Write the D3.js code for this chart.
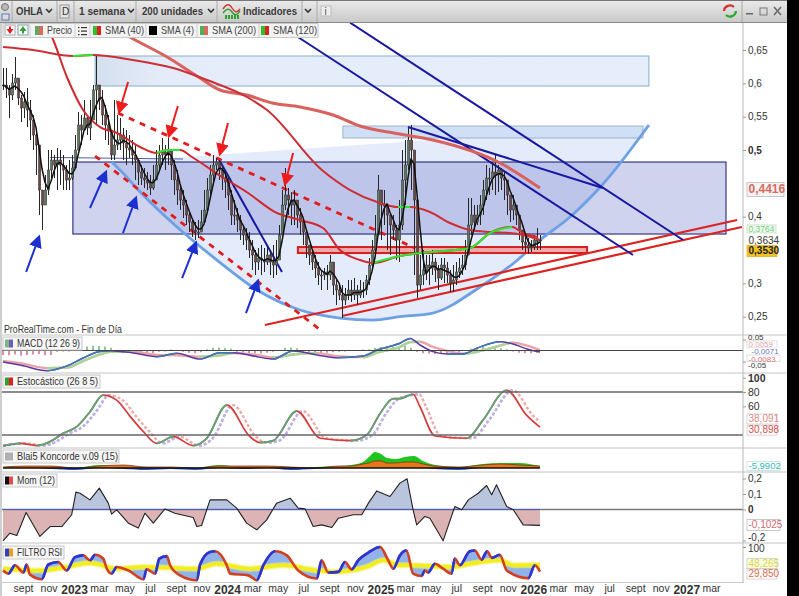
<!DOCTYPE html>
<html><head><meta charset="utf-8">
<script src="https://cdn.jsdelivr.net/npm/d3@7"></script>
<style>html,body{margin:0;padding:0;background:#fff}svg{display:block}text{font-family:"Liberation Sans",Arial,sans-serif}</style>
</head><body><div id="c"></div>
<script>
// ---- weekly bars (index 0..179), prices
const closes=[.5975,.593,.5825,.6005,.608,.578,.563,.572,.56,.545,.5225,.5075,.44,.4175,.44,.47,.485,.4775,.485,.4775,.47,.455,.458,.473,.5,.5375,.53,.548,.533,.545,.59,.5975,.575,.5525,.5375,.53,.4925,.5075,.515,.5225,.5105,.503,.5,.4925,.485,.467,.458,.455,.4505,.443,.455,.4775,.4925,.497,.4925,.5,.4775,.455,.44,.425,.4175,.4025,.392,.38,.377,.377,.392,.41,.44,.4625,.4775,.482,.47,.458,.452,.4325,.4025,.4025,.395,.38,.3725,.365,.35,.3425,.332,.338,.335,.332,.3425,.332,.3275,.335,.3725,.4175,.4325,.425,.4175,.425,.4025,.392,.377,.3575,.3425,.332,.323,.3125,.3125,.317,.3125,.332,.2975,.29,.2825,.275,.2825,.29,.2825,.29,.2825,.29,.29,.305,.3275,.35,.3725,.44,.4175,.4175,.4025,.3875,.38,.365,.3875,.455,.4775,.515,.5,.425,.2975,.3125,.32,.3275,.323,.332,.32,.308,.3275,.323,.3125,.3005,.305,.317,.323,.3275,.3425,.3875,.4025,.392,.4025,.4175,.44,.458,.458,.467,.4625,.47,.458,.455,.4325,.41,.4175,.4025,.38,.362,.3575,.353,.3545,.365,.365,.3634];
const highs=[.623,.623,.5975,.614,.6395,.5975,.5825,.587,.593,.575,.5525,.533,.5,.44,.4625,.5,.5,.4925,.503,.5,.4925,.4775,.485,.4925,.5225,.557,.5525,.575,.5525,.575,.5975,.6425,.5975,.59,.5675,.5525,.53,.575,.5525,.548,.533,.53,.5225,.515,.5075,.485,.4775,.473,.467,.4625,.4775,.5,.5075,.518,.5075,.518,.5,.485,.47,.4475,.44,.425,.407,.395,.392,.395,.41,.44,.458,.4775,.4925,.488,.485,.4775,.47,.4625,.44,.425,.413,.4025,.3875,.383,.377,.365,.35,.353,.3575,.353,.3575,.35,.3575,.365,.3875,.44,.473,.443,.437,.44,.425,.413,.395,.3725,.3575,.35,.3425,.332,.32,.323,.3275,.3425,.32,.305,.2975,.2975,.293,.305,.305,.308,.2975,.305,.302,.3125,.338,.365,.4025,.4625,.4325,.44,.4175,.4025,.4025,.3875,.425,.5,.515,.533,.5375,.4775,.395,.3425,.35,.3425,.3425,.35,.338,.3275,.338,.338,.332,.32,.3275,.332,.338,.3425,.365,.428,.428,.4175,.4175,.4325,.455,.4775,.473,.482,.4925,.4775,.473,.467,.4475,.4325,.4325,.4175,.4025,.38,.3725,.368,.365,.3725,.383,.3725];
const lows=[.59,.578,.548,.575,.59,.5675,.542,.548,.5345,.515,.5,.4625,.4025,.38,.4175,.4325,.455,.458,.44,.4475,.44,.44,.44,.455,.485,.5,.5075,.53,.5225,.515,.548,.5375,.56,.5375,.515,.5075,.485,.485,.5,.5,.485,.4775,.488,.4775,.455,.4475,.4475,.443,.44,.4325,.44,.458,.47,.4775,.47,.4775,.455,.4325,.4175,.41,.398,.3875,.377,.3695,.365,.368,.38,.395,.4175,.4325,.4475,.47,.455,.44,.428,.41,.3875,.3875,.377,.365,.3575,.35,.338,.32,.3125,.32,.3125,.317,.3275,.3125,.308,.3125,.35,.3875,.41,.4025,.3875,.3875,.383,.3725,.3575,.338,.3275,.32,.308,.2975,.29,.305,.29,.305,.2825,.2675,.275,.248,.2675,.275,.272,.275,.2675,.278,.278,.2825,.2975,.32,.3425,.38,.365,.3875,.35,.3425,.365,.335,.332,.38,.4175,.47,.44,.3125,.278,.29,.2975,.305,.2975,.3125,.302,.29,.305,.3005,.3005,.287,.287,.2975,.308,.3125,.32,.365,.3725,.38,.3875,.3875,.4025,.425,.4325,.44,.4325,.437,.44,.425,.4025,.392,.395,.3875,.365,.35,.347,.344,.347,.35,.35,.35];

// ---- moving averages: bar index and price pairs
const sma200Idx=[35.7,42.3,54.7,65.7,72.3,81.3,89.7,99,110,119,132.3,143.3,165.7,179];
const sma200Val=[.6875,.6695,.6395,.608,.59,.5825,.5705,.5645,.5525,.536,.524,.515,.4805,.443];
const sma120Idx=[0,10,23.3,30,43.3,56.7,68,81.3,88,106.3,115.7,124.7,131.7,135.7,142.3,149,155.7,162.3,169,173.3,179];
const sma120Val=[.6545,.65,.641,.6425,.635,.623,.605,.5795,.56,.47,.44,.422,.4145,.4145,.407,.3905,.38,.377,.3755,.3725,.365];
const sma120Rising=[[23.3,30],[131.7,135.7]];
const sma40Idx=[14,16.3,21.3,26.7,32.3,38,45.7,51.3,54.7,59,63,73,81.7,90.7,99,106.7,112.3,119,123.3,132.3,139,155.7,162.3,169.7,173.3,178.3];
const sma40Val=[.6875,.6695,.6095,.56,.5345,.5255,.5045,.4955,.5,.5,.4895,.4595,.4355,.407,.395,.383,.35,.335,.3305,.341,.3455,.353,.3755,.3845,.3755,.3695];
const sma40Rising=[[51.3,59],[123.3,169.7]];

// ---- drawn objects on the price chart: [idx0, price0, idx1, price1]
const zones=[[30.7,.641,215.3,.596],[113.3,.536,213.3,.518]];
const bigZone=[23.3,.482,241,.374];
const redZone=[98.3,.3545,194.7,.3455];
const navyLines=[[115.7,.691,226.7,.365],[98.3,.6695,210,.3425],[135,.5345,200,.443],[71.7,.488,93,.317],[15.7,.4888,60,.4865]];
const redLines=[[87.3,.2375,244.7,.395],[113,.251,246.3,.3845]];
const dashedLines=[[38.3,.5555,137.3,.353],[30.7,.491,106.7,.227]];
const blueArrows=[[7.7,.317,12,.3695],[29,.413,34.3,.467],[40,.3755,44.3,.428],[59.7,.308,64.3,.3605],[81,.2555,85,.3035]];
const redArrows=[[41.7,.602,38.7,.557],[58.3,.566,55.3,.521],[75,.5405,72.3,.494],[96.7,.4955,94,.449]];
const cupIdx=[36.3,39,46.7,58,71.3,84.7,99,112.3,123.3,132.3,143.3,159,170.3,179,189,200.3,215.3];
const cupVal=[.482,.47,.4325,.3845,.335,.29,.26,.248,.245,.25,.2555,.2945,.3305,.365,.3995,.4505,.5375];

// ---- MACD
const macdIdx=[0,5.7,14.7,21.3,26.7,32.3,35.7,43.3,51.3,58,65.7,72.3,76.7,84.7,90,96.7,104.7,111.3,120,124.7,132.3,135.7,139,143.3,148,153.3,158,165.7,170,174.7,179];
const macdLine=[-.052,-.066,-.092,-.070,-.034,-.005,-.001,-.011,-.028,-.013,-.039,-.010,-.010,-.028,-.039,-.002,-.020,-.033,-.025,.002,.033,.055,.025,-.005,-.016,-.016,.011,.040,.030,.007,-.007];
const macdSignal=[-.048,-.058,-.080,-.078,-.048,-.018,-.006,-.006,-.020,-.022,-.028,-.022,-.012,-.020,-.032,-.018,-.012,-.026,-.030,-.010,.016,.038,.040,.016,-.002,-.014,-.006,.022,.036,.022,.002];
const macdHist=[-.02,-.022,-.018,-.024,-.02,-.018,-.016,-.022,-.02,-.006,-.004,-.004,-.002,.004,.018,.022,.02,.018,.012,-.008,-.012,-.01,-.014,-.012,-.014,-.012,-.006,-.004,.004,.002,-.006,-.01,-.012,-.008,.006,.012,.014,.012,.008,-.006,-.01,-.012,-.012,-.014,-.01,-.006,.002,.012,.014,.01,-.006,-.01,-.012,-.012,-.01,-.008,-.006,-.004,-.002,.002,.004,.006,.012,.016,.014,.016,.018,.02,.012,-.006,-.012,-.014,-.016,-.014,-.012,-.01,-.008,-.002,.008,.012,.016,.014,.012,.01,.006,-.004,-.01,-.012,-.012,-.01];

// ---- Stochastic
const stochIdx=[0,5.7,11.2,15.7,20.1,24.6,29,33.4,37.9,42.3,46.8,51.2,56.8,63.4,67.9,74.6,82.3,85.7,90.1,97.9,105.7,115.7,121.2,125.7,130.1,132.3,136.7,139,144,154.5,160,167.9,174.5,179];
const stochK=[4.7,8.4,5.2,10.7,22.3,31.6,52.4,75.6,68.6,46.4,24.6,8.4,17.7,5.2,15.4,61.7,17.7,9.4,12.1,53.3,15.4,12.1,20,50.1,70.9,70.9,76.9,59.4,18.6,15.4,40.8,82.5,47.8,30.9];
const stochDIdx=[0,7.7,13.2,17.7,22.1,26.6,31,35.4,39.9,44.3,48.8,53.2,58.8,65.4,69.9,76.6,84.3,87.7,92.1,99.9,107.7,117.7,123.2,127.7,132.1,138.7,141,146,156.5,162,169.9,176.5,179];
const stochD=[5,8.4,5.2,10.7,22.3,31.6,52.4,75.6,68.6,46.4,24.6,8.4,17.7,5.2,15.4,61.7,17.7,9.4,12.1,53.3,15.4,12.1,20,50.1,70.9,76.9,59.4,18.6,15.4,40.8,82.5,47.8,38.1];

// ---- Koncorde
const konIdx=[0,8,16,24,32,40,48,56,64,72,80,88,96,104,112,116,120,122,124,126,128,131,134,137,140,144,152,160,166,172,179];
const konGreen=[1,2,1,0,3,1,0,1,0,3,1,2,0,1,2,3,6,11,16,14,10,9,11,12,7,3,1,4,5,5,2];
const konOrange=[1,2,2,0,2,3,1,1,0,2,2,2,1,0,2,2,4,5,7,7,5,5,6,6,4,2,1,3,4,3,2];
const konBlue=[0,0,-1,-2,0,-1,-2,-1,-2,0,-1,0,-2,-1,0,0,0,0,0,0,0,0,0,0,0,-1,-2,0,0,0,0];

// ---- Momentum
const momIdx=[0,2.3,4.6,7.7,12.3,15.7,19.6,22.9,24.3,25.7,29,32.1,35.1,36.2,37.9,41.8,45.1,47.3,50.1,54,57.3,63.4,64.6,66.2,69,74.6,77.9,81.2,84.6,87.9,91.2,95.7,98.4,100.7,103.4,106.2,109.6,111.8,116.8,119.6,121.8,124.6,129,132.3,134.7,136.7,137.9,140.6,142.3,146.7,150.6,152.9,155.1,158.4,161.2,162.9,164.5,167.9,170.1,173.4,179];
const momVal=[-.202,-.153,-.168,-.019,-.174,-.110,-.110,-.034,.112,.105,.062,.138,.041,-.030,-.002,-.088,-.120,-.024,-.088,.004,-.024,-.052,-.110,-.103,.062,.062,.009,-.088,-.131,-.067,.041,.073,.009,.004,-.110,-.099,-.116,-.056,-.034,-.034,.041,.120,.084,.170,.198,-.002,-.099,-.045,-.056,-.202,.019,-.002,.062,.105,.155,.095,.159,.019,-.002,-.099,-.1025];

// ---- Filtro RSI
const rsiIdx=[0,1.8,4,6.8,7.9,9,12.9,15.1,18.4,21.2,24,26.8,29,30.7,33.4,34.6,36.2,37.9,41.8,46.8,47.9,50.7,52.1,54.6,55.7,59,64.6,65.7,69,70.7,74.6,75.7,81.8,84.6,86.8,90.7,94.6,98.4,104.6,106.2,108.4,111.8,114,116.2,118.4,121.8,125.7,128.4,130.1,132.3,134.5,136.7,139.5,140.6,141.7,144,146.7,149.5,150.6,152.3,155.6,157.3,159.5,161.4,162.9,165.6,167.9,175.1,177.3,179];
const rsiVal=[33,24,48,27,50,21,8,50,57,33,71,76,62,78,67,38,24,43,33,8,36,24,67,74,48,19,5,50,86,88,48,24,19,5,48,88,76,33,10,62,27,29,57,36,62,84,100,62,38,76,90,24,17,33,27,52,38,24,67,48,88,90,64,88,69,78,33,11,48,29.85];
const rsiAvgIdx=[0,12.3,21.2,29,37.9,46.8,64.6,71.2,82.3,93.4,104.6,111.2,121.2,126.8,132.3,136.7,143.4,150.1,154.5,165.6,170.1,179];
const rsiAvgVal=[38,33,43,54,38,43,38,52,38,48,33,29,43,62,48,48,45,43,50,62,48,48.26];

// ---- axes
const priceTicks=[.65,.6,.55,.5,.4,.3,.25];
const timeDates=["2022-09","2022-11","2023-01","2023-03","2023-05","2023-07","2023-09","2023-11","2024-01","2024-03","2024-05","2024-07","2024-09","2024-11","2025-01","2025-03","2025-05","2025-07","2025-09","2025-11","2026-01","2026-03","2026-05","2026-07","2026-09","2026-11","2027-01","2027-03"];
const timeLabels=["sept","nov","2023","mar","may","jul","sept","nov","2024","mar","may","jul","sept","nov","2025","mar","may","jul","sept","nov","2026","mar","may","jul","sept","nov","2027","mar"];

// ================= drawing =================
const W=799,H=596,AX=743;
const svg=d3.select("#c").append("svg").attr("width",W).attr("height",H);
const defs=svg.append("defs");
const x=d3.scaleLinear([0,179],[3,540]);
const yP=d3.scaleLinear([.25,.65],[316.7,50]);
const yM=d3.scaleLinear([-.05,.05],[361.5,339.5]);
const yS=d3.scaleLinear([0,100],[449.3,377.7]);
const yK=d3.scaleLinear([-4,20],[472,448]);
const yO=d3.scaleLinear([-.2,.2],[540.5,478.5]);
const yR=d3.scaleLinear([0,100],[582,547]);
const xT=d3.scaleTime([new Date(2022,8,1),new Date(2027,2,1)],[23,711]);

function clip(id,y0,y1){defs.append("clipPath").attr("id",id).append("rect").attr("x",2).attr("y",y0).attr("width",AX-2).attr("height",y1-y0);}
clip("cp",23,335);clip("cm",335,373);clip("cs",373,448);clip("ck",448,472);clip("co",472,543);clip("cr",543,582);
const gr=defs.append("linearGradient").attr("id","zg");
gr.append("stop").attr("offset","0").attr("stop-color","#d3dfef");gr.append("stop").attr("offset",".12").attr("stop-color","#e5ecf9");gr.append("stop").attr("offset","1").attr("stop-color","#e6edfb");
const gb=defs.append("linearGradient").attr("id","tb").attr("x2",0).attr("y2",1);
gb.append("stop").attr("offset","0").attr("stop-color","#ebebeb");gb.append("stop").attr("offset","1").attr("stop-color","#c9c9c9");
[["ab","#1c2fd0"],["ar","#ee1c1c"]].forEach(([id,c])=>{
  defs.append("marker").attr("id",id).attr("viewBox","0 0 10 10").attr("refX",8).attr("refY",5).attr("markerUnits","userSpaceOnUse").attr("markerWidth",13).attr("markerHeight",13).attr("orient","auto").append("path").attr("d","M0,0L10,5L0,10Z").attr("fill",c);
});

const pair=(a,b)=>a.map((v,i)=>[v,b[i]]);
function sect(xs,ys,r){return pair(xs,ys).filter(d=>d[0]>=r[0]&&d[0]<=r[1]);}
function poly(g,pts,yS_,o){return g.append("path").datum(pts).attr("fill","none").attr("d",d3.line().x(d=>x(d[0])).y(d=>yS_(d[1])).curve(o.curve||d3.curveLinear)).attr("stroke",o.c).attr("stroke-width",o.w||1).attr("stroke-dasharray",o.dash||null).attr("opacity",o.op||1).attr("stroke-linejoin","round");}
// curve coloured by direction: the falling colour underneath, the rising stretches clipped on top
let segN=0;
function segs(g,xs,ys,sc,up,dn,w,dash){
  const pts=pair(xs,ys),id="rise"+(segN++),cp=defs.append("clipPath").attr("id",id);
  for(let i=1;i<xs.length;i++) if(ys[i]>=ys[i-1]) cp.append("rect").attr("x",x(xs[i-1])).attr("width",x(xs[i])-x(xs[i-1])).attr("y",0).attr("height",H);
  poly(g,pts,sc,{c:dn,w,dash,curve:d3.curveMonotoneX});
  poly(g,pts,sc,{c:up,w,dash,curve:d3.curveMonotoneX}).attr("clip-path",`url(#${id})`);
}
function seg(g,d,c,w,dash,mark){const l=g.append("line").attr("x1",x(d[0])).attr("y1",yP(d[1])).attr("x2",x(d[2])).attr("y2",yP(d[3])).attr("stroke",c).attr("stroke-width",w);if(dash)l.attr("stroke-dasharray",dash);if(mark)l.attr("marker-end",mark);return l;}

// background
svg.append("rect").attr("width",W).attr("height",H).attr("fill","#fff");

// ---- price panel
const P=svg.append("g").attr("clip-path","url(#cp)");
P.append("path").datum(pair(cupIdx,cupVal)).attr("d",d3.line().x(d=>x(d[0])).y(d=>yP(d[1])).curve(d3.curveMonotoneX)).attr("fill","#dfe8f9").attr("opacity",.85);
zones.forEach((z,i)=>P.append("rect").attr("x",x(z[0])).attr("y",yP(z[1])).attr("width",x(z[2])-x(z[0])).attr("height",yP(z[3])-yP(z[1])).attr("fill",i?"#cfdff6":"url(#zg)").attr("stroke",i?"#a0b4c4":"#86b0c8"));
P.append("rect").attr("x",x(bigZone[0])).attr("y",yP(bigZone[1])).attr("width",x(bigZone[2])-x(bigZone[0])).attr("height",yP(bigZone[3])-yP(bigZone[1])).attr("fill","#6f78cc").attr("fill-opacity",.33);
P.append("rect").attr("x",x(bigZone[0])).attr("y",yP(bigZone[1])).attr("width",x(bigZone[2])-x(bigZone[0])).attr("height",yP(bigZone[3])-yP(bigZone[1])).attr("fill","none").attr("stroke","#15156a").attr("stroke-width",1);
poly(P,pair(cupIdx,cupVal),yP,{c:"#6ea0e4",w:2.8,curve:d3.curveMonotoneX});
P.append("rect").attr("x",x(redZone[0])).attr("y",yP(redZone[1])).attr("width",x(redZone[2])-x(redZone[0])).attr("height",yP(redZone[3])-yP(redZone[1])).attr("fill","#ee9c9c").attr("fill-opacity",.85).attr("stroke","#d81e1e").attr("stroke-width",2);
redLines.forEach(d=>seg(P,d,"#dd2222",2.2));
navyLines.forEach((d,i)=>seg(P,d,i==4?"#5260a8":"#1818a0",i==4?1:2));
dashedLines.forEach(d=>seg(P,d,"#e21c1c",2.8,"6 6"));

// candles
const opens=closes.map((c,i)=>i?closes[i-1]:c);
const bars=P.append("g");
closes.forEach((c,i)=>{
  bars.append("line").attr("x1",x(i)+.5).attr("x2",x(i)+.5).attr("y1",yP(highs[i])).attr("y2",yP(lows[i])).attr("stroke","#262626").attr("stroke-width",1).attr("shape-rendering","crispEdges");
  bars.append("rect").attr("x",x(i)-.5).attr("width",2.2).attr("y",yP(Math.max(c,opens[i]))).attr("height",Math.max(1,Math.abs(yP(c)-yP(opens[i])))).attr("fill",c>=opens[i]?"#5f7a60":"#6e4642").attr("stroke","#2a2a2a").attr("stroke-width",.5);
});

// moving averages
poly(P,pair(sma200Idx,sma200Val),yP,{c:"#d9615e",w:3,curve:d3.curveMonotoneX});
poly(P,pair(sma120Idx,sma120Val),yP,{c:"#cc2f34",w:2,curve:d3.curveMonotoneX});
sma120Rising.forEach(r=>poly(P,sect(sma120Idx,sma120Val,r),yP,{c:"#2ee62e",w:2,curve:d3.curveMonotoneX}));
poly(P,pair(sma40Idx,sma40Val),yP,{c:"#d02a2e",w:2,curve:d3.curveMonotoneX});
sma40Rising.forEach(r=>poly(P,sect(sma40Idx,sma40Val,r),yP,{c:"#2ee62e",w:2,curve:d3.curveMonotoneX}));
const sma4=closes.map((_,i)=>d3.mean(closes.slice(Math.max(0,i-3),i+1)));
poly(P,sma4.map((v,i)=>[i,v]),yP,{c:"#111",w:1.5});
blueArrows.forEach(d=>seg(P,d,"#1c2fd0",2,null,"url(#ab)"));
redArrows.forEach(d=>seg(P,d,"#ee1c1c",2,null,"url(#ar)"));
const fit=(sel,len)=>sel.attr("textLength",len).attr("lengthAdjust","spacingAndGlyphs");
fit(svg.append("text").attr("x",4).attr("y",333).attr("font-size",10).attr("fill","#333").text("ProRealTime.com - Fin de Día"),118);

// ---- MACD
const M=svg.append("g").attr("clip-path","url(#cm)");
macdHist.forEach((v,i)=>M.append("line").attr("x1",x(i*2)).attr("x2",x(i*2)).attr("y1",yM(0)).attr("y2",yM(v)).attr("stroke",v>=0?"#5fb45f":"#c8607a").attr("stroke-width",1.4));
segs(M,macdIdx,macdSignal,yM,"#a9d596","#eba2a6",2.4);
segs(M,macdIdx,macdLine,yM,"#3d79b4","#5a38a0",1.5);
M.append("line").attr("x1",2).attr("x2",AX).attr("y1",yM(0)).attr("y2",yM(0)).attr("stroke","#444").attr("stroke-width",1);

// ---- Stochastic
const S=svg.append("g").attr("clip-path","url(#cs)");
segs(S,stochDIdx,stochD,yS,"#b5b5ea","#f0a9a9",2.4,"3 2");
segs(S,stochIdx,stochK,yS,"#56a878","#d63c3c",1.7);
[80,20].forEach(v=>S.append("line").attr("x1",2).attr("x2",AX).attr("y1",yS(v)).attr("y2",yS(v)).attr("stroke","#666").attr("stroke-width",1.3));

// ---- Koncorde
const K=svg.append("g").attr("clip-path","url(#ck)");
function kArea(vals,c){K.append("path").datum(pair(konIdx,vals)).attr("fill",c).attr("d",d3.area().x(d=>x(d[0])).y0(yK(0)).y1(d=>yK(d[1])).curve(d3.curveMonotoneX));}
kArea(konBlue,"#2b55cc");kArea(konGreen,"#1fc41f");kArea(konOrange,"#e8761c");
poly(K,pair(konIdx,konOrange),yK,{c:"#7a2a10",w:.7,curve:d3.curveMonotoneX});
K.append("line").attr("x1",x(0)).attr("x2",x(179)).attr("y1",yK(0)).attr("y2",yK(0)).attr("stroke","#111").attr("stroke-width",1.6);

// ---- Momentum
const O=svg.append("g").attr("clip-path","url(#co)");
clip("cop",472,yO(0));clip("con",yO(0),543);
const momArea=d3.area().x(d=>x(d[0])).y0(yO(0)).y1(d=>yO(d[1]));
O.append("path").datum(pair(momIdx,momVal)).attr("d",momArea).attr("fill","#b9c5dd").attr("clip-path","url(#cop)");
O.append("path").datum(pair(momIdx,momVal)).attr("d",momArea).attr("fill","#dcb4b6").attr("clip-path","url(#con)");
O.append("line").attr("x1",2).attr("x2",AX).attr("y1",yO(0)).attr("y2",yO(0)).attr("stroke","#777").attr("stroke-width",1.5);
O.append("line").attr("x1",x(0)).attr("x2",x(179)).attr("y1",yO(0)).attr("y2",yO(0)).attr("stroke","#3f55d8").attr("stroke-width",.8);
poly(O,pair(momIdx,momVal),yO,{c:"#222",w:1.1});

// ---- RSI
const R=svg.append("g").attr("clip-path","url(#cr)");
const rsiPts=pair(rsiIdx,rsiVal),avgPts=pair(rsiAvgIdx,rsiAvgVal);
const avgAt=d3.scaleLinear(rsiAvgIdx,rsiAvgVal);
R.append("path").datum(rsiPts).attr("fill","#8fb3ea").attr("d",d3.area().x(d=>x(d[0])).y0(d=>yR(avgAt(d[0]))).y1(d=>yR(d[1])).curve(d3.curveMonotoneX));
poly(R,avgPts,yR,{c:"#f4f06a",w:6,curve:d3.curveMonotoneX,op:.7});
poly(R,avgPts,yR,{c:"#f2ee1c",w:3.5,curve:d3.curveMonotoneX});
segs(R,rsiIdx,rsiVal,yR,"#2338dc","#d4401e",2.6);

// ---- separators and frame
[335,373,448,472,543].forEach(y=>svg.append("line").attr("x1",2).attr("x2",787).attr("y1",y).attr("y2",y).attr("stroke","#c4c4c4"));
svg.append("line").attr("x1",0).attr("x2",AX+1).attr("y1",582.5).attr("y2",582.5).attr("stroke","#c8c8c8");
svg.append("line").attr("x1",AX).attr("x2",AX).attr("y1",23).attr("y2",582).attr("stroke","#b8b8b8");
svg.append("rect").attr("x",0).attr("y",22).attr("width",2).attr("height",574).attr("fill","#cfcfcf");
svg.append("rect").attr("x",787).attr("y",0).attr("width",12).attr("height",596).attr("fill","#000");

// ---- axes through d3
function axisFor(sc,ticks,fmt,bold,fs,nudge){
  const g=svg.append("g").attr("transform",`translate(${AX},0)`).call(d3.axisRight(sc).tickValues(ticks).tickSize(3).tickPadding(2).tickFormat(fmt));
  g.select(".domain").remove();g.selectAll("line").attr("stroke","#999");
  g.selectAll("text").attr("font-size",fs||10).attr("fill","#333").attr("font-weight",d=>bold.includes(d)?"700":"400").attr("y",d=>(nudge&&nudge.get(d))||0);
  return g;
}
const comma=d=>String(d).replace(".",",");
axisFor(yP,priceTicks,comma,[.5]);
axisFor(yM,[.05,-.05],comma,[],8,new Map([[.05,-2.5],[-.05,3.5]]));
axisFor(yS,[100,80,60],comma,[100],10.5);
axisFor(yO,[.2,.1,0,-.2],comma,[0],10,new Map([[-.2,-3]]));
axisFor(yR,[100],comma,[],10,new Map([[100,1.5]]));
const tg=svg.append("g").attr("transform","translate(0,582)").call(d3.axisBottom(xT).tickValues(timeDates.map(s=>new Date(+s.slice(0,4),+s.slice(5)-1,1))).tickSize(0).tickPadding(3).tickFormat((d,i)=>timeLabels[i]));
tg.select(".domain").remove();
tg.selectAll("text").attr("font-size",(d,i)=>/^\d/.test(timeLabels[i])?12:10.5).attr("fill","#333").attr("font-weight",(d,i)=>/^\d/.test(timeLabels[i])?"700":"400");

// value boxes at the right edge
function box(t,yc,o){
  const wd=o.w||34,x0=o.x||747;
  svg.append("rect").attr("x",x0).attr("y",yc-(o.h||10)/2).attr("width",wd).attr("height",o.h||10).attr("fill",o.bg||"#fff").attr("stroke",o.bd||"#c8c8c8").attr("stroke-width",.8);
  svg.append("text").attr("x",x0+1.5).attr("y",yc+3.2).attr("font-size",o.fs||10).attr("font-weight",o.fw||400).attr("fill",o.c).text(t);
}
box("0,4416",yP(.4416)+.5,{c:"#d96a62",w:37,h:14,fs:12,fw:700,bg:"#f4f4f4",bd:"#bbb"});
box("0,3764",yP(.3764)-3.5,{c:"#7ad07a",w:29,h:8,fs:8.5,bd:"#c8d8c8",bg:"#eefcee"});
box("0,3634",yP(.3634)-.5,{c:"#333",w:29,h:9,bd:"#fff"});
box("0,3530",yP(.353)+3,{c:"#222",w:30,h:11,fw:700,bg:"#f0c226",bd:"#e0b020"});
box("0,0059",yM(.0059)-5,{c:"#e3a0a8",w:30,h:6.6,fs:8,bd:"#d8d8d8"});
box("-0,0071",yM(-.0071)-1,{c:"#6a72c0",w:32,h:6,fs:8,x:750,bd:"#fff"});
box("-0,0083",yM(-.0083)+6,{c:"#d87070",w:33,h:6.6,fs:8,bd:"#d8d8d8"});
box("38,091",yS(38.09)-3,{c:"#e08a88",w:30,h:10,bd:"#ccc"});
box("30,898",yS(30.9)+3,{c:"#d8504a",w:30,h:10,bd:"#ccc"});
box("-5,9902",466,{c:"#2fb9b0",w:33,h:9,fs:9.5,bd:"#c8dcdc"});
box("-0,1025",yO(-.1025)-.5,{c:"#d06a70",w:33,h:11,bd:"#bbb"});
box("48,265",yR(48.26)-1.5,{c:"#d8d84a",w:30,h:10,bg:"#fafae0",bd:"#ccc"});
box("29,850",yR(29.85)+2.5,{c:"#d86a4a",w:30,h:10,bd:"#ccc"});

// ---- panel title chips
function chip(x0,y0,wd,label,sw,len){
  const g=svg.append("g");
  g.append("rect").attr("x",x0).attr("y",y0).attr("width",wd).attr("height",13).attr("fill","#f5f5f5").attr("fill-opacity",.85).attr("stroke","#c8c8c8");
  sw.forEach((c,i)=>g.append("rect").attr("x",x0+2+i*8/sw.length).attr("y",y0+2.5).attr("width",8/sw.length).attr("height",8).attr("fill",c));
  fit(g.append("text").attr("x",x0+14).attr("y",y0+10).attr("font-size",10.5).attr("fill","#333").text(label),len);
}
chip(3,337,79,"MACD (12 26 9)",["#7fb87f","#6a5cc0"],63);
chip(3,375,97,"Estocástico (26 8 5)",["#2fa02f","#e02020"],81);
chip(3,450,116,"Blai5 Koncorde v.09 (15)",["#b0b0b0"],101);
chip(3,474,54,"Mom (12)",["#111","#e05050"],38);
chip(3,546,61,"FILTRO RSI",["#3040c0","#e8a020"],45);

// ---- toolbar
svg.append("rect").attr("width",787).attr("height",22).attr("fill","url(#tb)");
svg.append("line").attr("x1",0).attr("x2",787).attr("y1",22.5).attr("y2",22.5).attr("stroke","#8a8a8a");
svg.append("line").attr("x1",0).attr("x2",787).attr("y1",.5).attr("y2",.5).attr("stroke","#777");
[12,57,74,136,217,302,317].forEach(v=>svg.append("line").attr("x1",v).attr("x2",v).attr("y1",1).attr("y2",22).attr("stroke","#aaa"));
svg.append("line").attr("x1",742).attr("x2",742).attr("y1",1).attr("y2",22).attr("stroke","#aaa");
svg.append("circle").attr("cx",5).attr("cy",7).attr("r",3.5).attr("fill","#b8b8b8").attr("stroke","#777");
svg.append("rect").attr("x",2).attr("y",14).attr("width",7).attr("height",6).attr("fill","#ddd").attr("stroke","#5a7ac0");
const tt=(x0,s,len)=>fit(svg.append("text").attr("x",x0).attr("y",15).attr("font-size",10.5).attr("font-weight",700).attr("fill","#3a3a3a").text(s),len);
tt(16,"OHLA",27);tt(79,"1 semana",46);tt(142,"200 unidades",61);tt(243,"Indicadores",54);
svg.append("rect").attr("x",60).attr("y",5).attr("width",9).attr("height",13).attr("fill","#e4e4e4").attr("stroke","#999");
svg.append("text").attr("x",62).attr("y",15).attr("font-size",10).attr("fill","#333").text("D");
[[49,9],[131,9],[211,9],[308,9]].forEach(([cx,cy])=>svg.append("path").attr("d",`M${cx-3},${cy}L${cx},${cy+3}L${cx+3},${cy}`).attr("fill","none").attr("stroke","#333").attr("stroke-width",1.6));
svg.append("path").attr("d","M223,9 Q228,1 232,8 T240,9").attr("fill","none").attr("stroke","#d23a3a").attr("stroke-width",1.5);
svg.append("path").attr("d","M223,13 Q228,6 232,12 T240,11").attr("fill","none").attr("stroke","#2fa02f").attr("stroke-width",1.5);
[225,228,231,234,237].forEach(v=>svg.append("rect").attr("x",v).attr("y",15).attr("width",2).attr("height",4).attr("fill","#2fa02f"));
svg.append("rect").attr("x",321).attr("y",6).attr("width",10).attr("height",10).attr("fill","#eee").attr("stroke","#bbb");
svg.append("text").attr("x",324.5).attr("y",15).attr("font-size",10).attr("fill","#555").text("i");
svg.append("path").attr("d","M724,11 a6,6 0 0 1 10,-4").attr("fill","none").attr("stroke","#d83030").attr("stroke-width",2.2);
svg.append("path").attr("d","M736,11 a6,6 0 0 1 -10,4").attr("fill","none").attr("stroke","#28a828").attr("stroke-width",2.2);
svg.append("rect").attr("x",746).attr("y",13).attr("width",7).attr("height",1.5).attr("fill","#666");
svg.append("rect").attr("x",760).attr("y",8).attr("width",7).attr("height",7).attr("fill","none").attr("stroke","#777");
svg.append("path").attr("d","M774,7L781,15M781,7L774,15").attr("stroke","#666").attr("stroke-width",1.5);

// ---- legend row
const lg=svg.append("g");
lg.append("rect").attr("x",3).attr("y",23.5).attr("width",315).attr("height",14).attr("fill","#f3f3f3").attr("stroke","#c8c8c8");
[30,75,90,146,197,259].forEach(v=>lg.append("line").attr("x1",v).attr("x2",v).attr("y1",24).attr("y2",37).attr("stroke","#cfcfcf"));
lg.append("rect").attr("x",5).attr("y",25).attr("width",10).attr("height",10).attr("fill","#fff").attr("stroke","#aaa");
lg.append("rect").attr("x",18).attr("y",25).attr("width",10).attr("height",10).attr("fill","#fff").attr("stroke","#7aa0b0");
lg.append("path").attr("d","M10,34L6.5,29H9V26.5H11V29H13.5Z").attr("fill","#e02020");
lg.append("path").attr("d","M23,26L19.5,31H22V33.5H24V31H26.5Z").attr("fill","#2fa02f");
function lgi(x0,label,cols,len){
  cols.forEach((c,i)=>lg.append("rect").attr("x",x0+i*8/cols.length).attr("y",26).attr("width",8/cols.length).attr("height",9).attr("fill",c));
  fit(lg.append("text").attr("x",x0+12).attr("y",33.5).attr("font-size",10.5).attr("fill","#444").text(label),len);
}
lgi(35,"Precio",["#5fa85f","#d86a60"],25);
[27,30.5,34].forEach(v=>{lg.append("rect").attr("x",81).attr("y",v).attr("width",6).attr("height",1.2).attr("fill","#333");lg.append("rect").attr("x",78).attr("y",v).attr("width",1.5).attr("height",1.2).attr("fill","#333");});
lgi(93,"SMA (40)",["#28c428","#e02020"],39);
lgi(149,"SMA (4)",["#000"],33);
lgi(200,"SMA (200)",["#4fb04f","#d86a60"],44);
lgi(261,"SMA (120)",["#28c428","#e02020"],44);
</script></body></html>
